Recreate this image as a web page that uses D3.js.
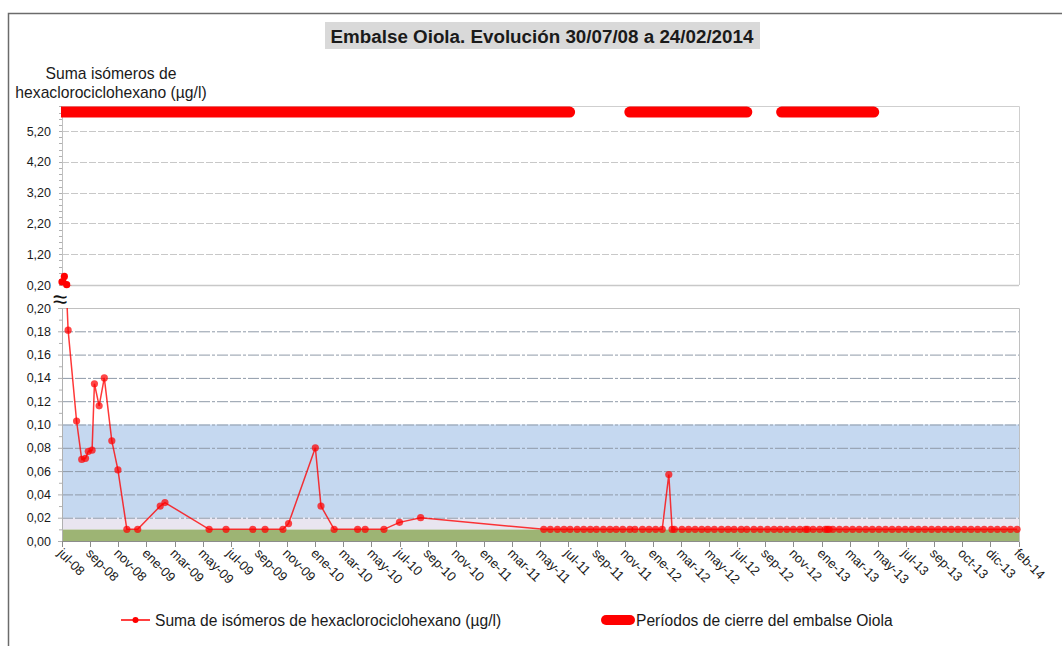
<!DOCTYPE html>
<html><head><meta charset="utf-8">
<script src="https://cdn.jsdelivr.net/npm/d3@7"></script>
<style>body{margin:0;background:#fff;} svg{display:block;font-family:"Liberation Sans",Arial,sans-serif;}</style>
</head><body><svg id="c" width="1062" height="646"></svg>
<script>
const titleText = "Embalse Oiola. Evolución 30/07/08 a 24/02/2014";
const yAxisTitle = ["Suma isómeros de", "hexaclorociclohexano (µg/l)"];
const seriesName = "Suma de isómeros de hexaclorociclohexano (µg/l)";
const closureName = "Períodos de cierre del embalse Oiola";
const axisStart = "2008-07-30";
const axisEnd = "2014-02-24";
const xTickLabels = ["jul-08","sep-08","nov-08","ene-09","mar-09","may-09","jul-09","sep-09","nov-09","ene-10","mar-10","may-10","jul-10","sep-10","nov-10","ene-11","mar-11","may-11","jul-11","sep-11","nov-11","ene-12","mar-12","may-12","jul-12","sep-12","nov-12","ene-13","mar-13","may-13","jul-13","sep-13","oct-13","dic-13","feb-14"];
const topTicks = [0.2, 1.2, 2.2, 3.2, 4.2, 5.2];
const bottomTicks = [0, 0.02, 0.04, 0.06, 0.08, 0.10, 0.12, 0.14, 0.16, 0.18, 0.20];
const bandLimits = [0, 0.01, 0.02, 0.10];
const closureStarts = ["2008-07-30", "2011-11-20", "2012-10-08"];
const closureEnds = ["2011-07-15", "2012-07-26", "2013-04-22"];
const closureLevel = 5.82;
const samples = [
["2008-07-30",0.30],["2008-08-04",0.48],["2008-08-09",0.21],["2008-08-12",0.181],["2008-08-30",0.103],
["2008-09-10",0.070],["2008-09-18",0.071],["2008-09-24",0.077],["2008-10-02",0.078],["2008-10-07",0.135],
["2008-10-17",0.116],["2008-10-28",0.140],["2008-11-13",0.086],["2008-11-26",0.061],["2008-12-15",0.010],
["2009-01-07",0.010],["2009-02-24",0.030],["2009-03-06",0.033],["2009-06-08",0.010],["2009-07-14",0.010],
["2009-09-09",0.010],["2009-10-05",0.010],["2009-11-12",0.010],["2009-11-24",0.015],["2010-01-20",0.080],
["2010-02-01",0.030],["2010-03-01",0.010],["2010-04-20",0.010],["2010-05-06",0.010],["2010-06-15",0.010],
["2010-07-18",0.016],["2010-09-01",0.020],
["2011-05-21",0.01],["2011-06-04",0.01],["2011-06-19",0.01],["2011-07-03",0.01],["2011-07-16",0.01],
["2011-07-31",0.01],["2011-08-14",0.01],["2011-08-28",0.01],["2011-09-10",0.01],["2011-09-25",0.01],
["2011-10-09",0.01],["2011-10-22",0.01],["2011-11-05",0.01],["2011-11-20",0.01],["2011-12-01",0.01],
["2011-12-17",0.01],["2011-12-31",0.01],["2012-01-14",0.01],["2012-01-28",0.01],["2012-02-11",0.057],
["2012-02-18",0.01],["2012-02-23",0.01],["2012-03-10",0.01],["2012-03-24",0.01],["2012-04-07",0.01],
["2012-04-21",0.01],["2012-05-04",0.01],["2012-05-18",0.01],["2012-06-02",0.01],["2012-06-16",0.01],
["2012-06-29",0.01],["2012-07-14",0.01],["2012-07-26",0.01],["2012-08-10",0.01],["2012-08-24",0.01],
["2012-09-08",0.01],["2012-09-22",0.01],["2012-10-05",0.01],["2012-10-19",0.01],["2012-11-02",0.01],
["2012-11-16",0.01],["2012-11-28",0.01],["2012-12-02",0.01],["2012-12-14",0.01],["2012-12-28",0.01],
["2013-01-09",0.01],["2013-01-13",0.01],["2013-01-17",0.01],["2013-01-25",0.01],["2013-02-08",0.01],
["2013-02-22",0.01],["2013-03-08",0.01],["2013-03-22",0.01],["2013-04-05",0.01],["2013-04-19",0.01],
["2013-05-03",0.01],["2013-05-17",0.01],["2013-05-31",0.01],["2013-06-14",0.01],["2013-06-28",0.01],
["2013-07-12",0.01],["2013-07-26",0.01],["2013-08-09",0.01],["2013-08-23",0.01],["2013-09-06",0.01],
["2013-09-20",0.01],["2013-10-04",0.01],["2013-10-18",0.01],["2013-11-01",0.01],["2013-11-15",0.01],
["2013-11-29",0.01],["2013-12-13",0.01],["2013-12-27",0.01],["2014-01-10",0.01],["2014-01-24",0.01],
["2014-02-07",0.01],["2014-02-21",0.01]
];

const parse = d3.timeParse("%Y-%m-%d");
const data = samples.map(([d, v]) => ({date: parse(d), value: v}));
const t0 = parse(axisStart), t1 = parse(axisEnd);
const svg = d3.select("#c");
const L = 62, R = 1019;
const x = d3.scaleTime().domain([t0, t1]).range([L, 1018.5]);
const yTop = d3.scaleLinear().domain([0.2, 6.0]).range([285, 106.5]);
const yBot = d3.scaleLinear().domain([0, 0.2]).range([541, 308]);
const fmt = v => d3.format(".2f")(v).replace(".", ",");
const txt = "#1a1a1a";

// outer frame
svg.append("path").attr("d", "M8.5,646 V13.5 H1062").attr("fill", "none").attr("stroke", "#6b6b6b").attr("stroke-width", 1.5);

// title
const tg = svg.append("g");
tg.append("rect").attr("x", 325).attr("y", 22).attr("width", 435).attr("height", 27).attr("fill", "#d9d9d9");
tg.append("text").attr("x", 542).attr("y", 42.5).attr("text-anchor", "middle").attr("font-size", 18.8).attr("font-weight", "bold").attr("fill", txt).text(titleText);

// axis title
yAxisTitle.forEach((s, i) => svg.append("text").attr("x", 111).attr("y", 79 + i * 19).attr("text-anchor", "middle").attr("font-size", 15.7).attr("fill", txt).text(s));

const defs = svg.append("defs");
defs.append("clipPath").attr("id", "clipTop").append("rect").attr("x", 61).attr("y", 100).attr("width", R - 61).attr("height", 185.5);
defs.append("clipPath").attr("id", "clipBot").append("rect").attr("x", L).attr("y", 308).attr("width", R - L).attr("height", 233);

// ---------- bottom panel ----------
const bandColors = ["#9db474", "#e9e5f0", "#c5d8f0"];
for (let i = 0; i < bandLimits.length - 1; i++) {
  svg.append("rect").attr("x", L).attr("width", R - L)
    .attr("y", yBot(bandLimits[i + 1])).attr("height", yBot(bandLimits[i]) - yBot(bandLimits[i + 1]))
    .attr("fill", bandColors[i]);
}
// gridlines
svg.append("g").selectAll("line").data(bottomTicks.filter(v => v > 0 && v < 0.2)).join("line")
  .attr("x1", L).attr("x2", R).attr("y1", d => yBot(d) + 0.5).attr("y2", d => yBot(d) + 0.5)
  .attr("stroke", "#8f9aa8").attr("stroke-width", 1).attr("stroke-dasharray", "11,2,11,2,3,2");
// frame
svg.append("path").attr("d", `M${L},${yBot(0.2) + 0.5} H${R + 0.5} V${yBot(0)}`).attr("fill", "none").attr("stroke", "#c0c0c0");
// left axis
const gyB = svg.append("g").attr("transform", `translate(${L},0)`);
gyB.append("line").attr("x1", 0.5).attr("x2", 0.5).attr("y1", yBot(0.2)).attr("y2", yBot(0)).attr("stroke", "#b0b0b0");
gyB.selectAll(".mj").data(bottomTicks).join("line").attr("x1", -4).attr("x2", 0).attr("y1", d => yBot(d) + 0.5).attr("y2", d => yBot(d) + 0.5).attr("stroke", "#b0b0b0");
gyB.selectAll(".mn").data(d3.range(0.01, 0.2, 0.02)).join("line").attr("x1", -3).attr("x2", 0).attr("y1", d => yBot(d) + 0.5).attr("y2", d => yBot(d) + 0.5).attr("stroke", "#b0b0b0");
svg.append("g").selectAll("text").data(bottomTicks).join("text")
  .attr("x", 51).attr("y", d => yBot(d)).attr("dy", "0.36em").attr("text-anchor", "end")
  .attr("font-size", 12.5).attr("fill", txt).text(fmt);
// bottom x axis
svg.append("line").attr("x1", L).attr("x2", R).attr("y1", 541.5).attr("y2", 541.5).attr("stroke", "#8c8c8c");
const tickDates = xTickLabels.map((_, i) => new Date(+t0 + i * (t1 - t0) / (xTickLabels.length - 1)));
svg.append("g").selectAll("line").data(tickDates).join("line")
  .attr("x1", d => Math.round(x(d)) + 0.5).attr("x2", d => Math.round(x(d)) + 0.5).attr("y1", 541.5).attr("y2", 547)
  .attr("stroke", "#8c8c8c");
svg.append("g").selectAll("text").data(tickDates).join("text")
  .attr("transform", d => `translate(${x(d) - 5},554) rotate(45)`)
  .attr("font-size", 13).attr("fill", txt).text((d, i) => xTickLabels[i]);

// series in bottom panel
const lineB = d3.line().x(d => x(d.date)).y(d => yBot(d.value));
svg.append("path").datum(data).attr("clip-path", "url(#clipBot)").attr("d", lineB)
  .attr("fill", "none").attr("stroke", "#ff0000").attr("stroke-opacity", 0.78).attr("stroke-width", 1.5);
svg.append("g").selectAll("circle").data(data.filter(d => d.value <= 0.2)).join("circle")
  .attr("cx", d => x(d.date)).attr("cy", d => yBot(d.value)).attr("r", 3.6)
  .attr("fill", "#ff0000").attr("fill-opacity", 0.72);

// ---------- top panel ----------
svg.append("g").selectAll("line").data(topTicks.filter(v => v > 0.2)).join("line")
  .attr("x1", L).attr("x2", R).attr("y1", d => Math.round(yTop(d)) + 0.5).attr("y2", d => Math.round(yTop(d)) + 0.5)
  .attr("stroke", "#c8c8c8").attr("stroke-dasharray", "7,2");
svg.append("path").attr("d", `M${L},${yTop(6.0)} H${R + 0.5} V${yTop(0.2)}`).attr("fill", "none").attr("stroke", "#cfcfcf");
svg.append("line").attr("x1", L).attr("x2", R).attr("y1", yTop(0.2) + 0.5).attr("y2", yTop(0.2) + 0.5).attr("stroke", "#c8c8c8").attr("stroke-width", 1.5);
const gyT = svg.append("g").attr("transform", `translate(${L},0)`);
gyT.append("line").attr("x1", 0.5).attr("x2", 0.5).attr("y1", yTop(6.0)).attr("y2", yTop(0.2)).attr("stroke", "#c0c0c0");
gyT.selectAll(".mn").data(d3.range(0.2, 6.01, 0.2)).join("line").attr("x1", -3).attr("x2", 0)
  .attr("y1", d => Math.round(yTop(d)) + 0.5).attr("y2", d => Math.round(yTop(d)) + 0.5).attr("stroke", "#b0b0b0");
svg.append("g").selectAll("text").data(topTicks).join("text")
  .attr("x", 51).attr("y", d => yTop(d)).attr("dy", "0.36em").attr("text-anchor", "end")
  .attr("font-size", 12.5).attr("fill", txt).text(fmt);

// closure periods
svg.append("g").attr("clip-path", "url(#clipTop)").selectAll("line").data(closureStarts).join("line")
  .attr("x1", (d, i) => x(parse(d))).attr("x2", (d, i) => x(parse(closureEnds[i])))
  .attr("y1", yTop(closureLevel)).attr("y2", yTop(closureLevel))
  .attr("stroke", "#ff0000").attr("stroke-width", 11).attr("stroke-linecap", "round");

// series in top panel
const lineT = d3.line().x(d => x(d.date)).y(d => yTop(d.value));
svg.append("path").datum(data).attr("clip-path", "url(#clipTop)").attr("d", lineT)
  .attr("fill", "none").attr("stroke", "#ff0000").attr("stroke-width", 1.5);
svg.append("g").selectAll("circle").data(data.filter(d => d.value >= 0.2)).join("circle")
  .attr("cx", d => x(d.date)).attr("cy", d => yTop(d.value)).attr("r", 3.6).attr("fill", "#ff0000");

// axis break symbol
svg.append("text").attr("x", 60).attr("y", 308).attr("text-anchor", "middle").attr("font-size", 26).attr("fill", "#111").text("≈");

// legend
const lg = svg.append("g");
lg.append("line").attr("x1", 121).attr("x2", 150).attr("y1", 620).attr("y2", 620).attr("stroke", "#ff0000").attr("stroke-width", 1.5);
lg.append("circle").attr("cx", 135.5).attr("cy", 620).attr("r", 3).attr("fill", "#ff0000");
lg.append("text").attr("x", 155).attr("y", 620).attr("dy", "0.36em").attr("font-size", 15.6).attr("fill", txt).text(seriesName);
lg.append("line").attr("x1", 606).attr("x2", 630).attr("y1", 620).attr("y2", 620).attr("stroke", "#ff0000").attr("stroke-width", 10).attr("stroke-linecap", "round");
lg.append("text").attr("x", 636).attr("y", 620).attr("dy", "0.36em").attr("font-size", 15.6).attr("fill", txt).text(closureName);
</script></body></html>
